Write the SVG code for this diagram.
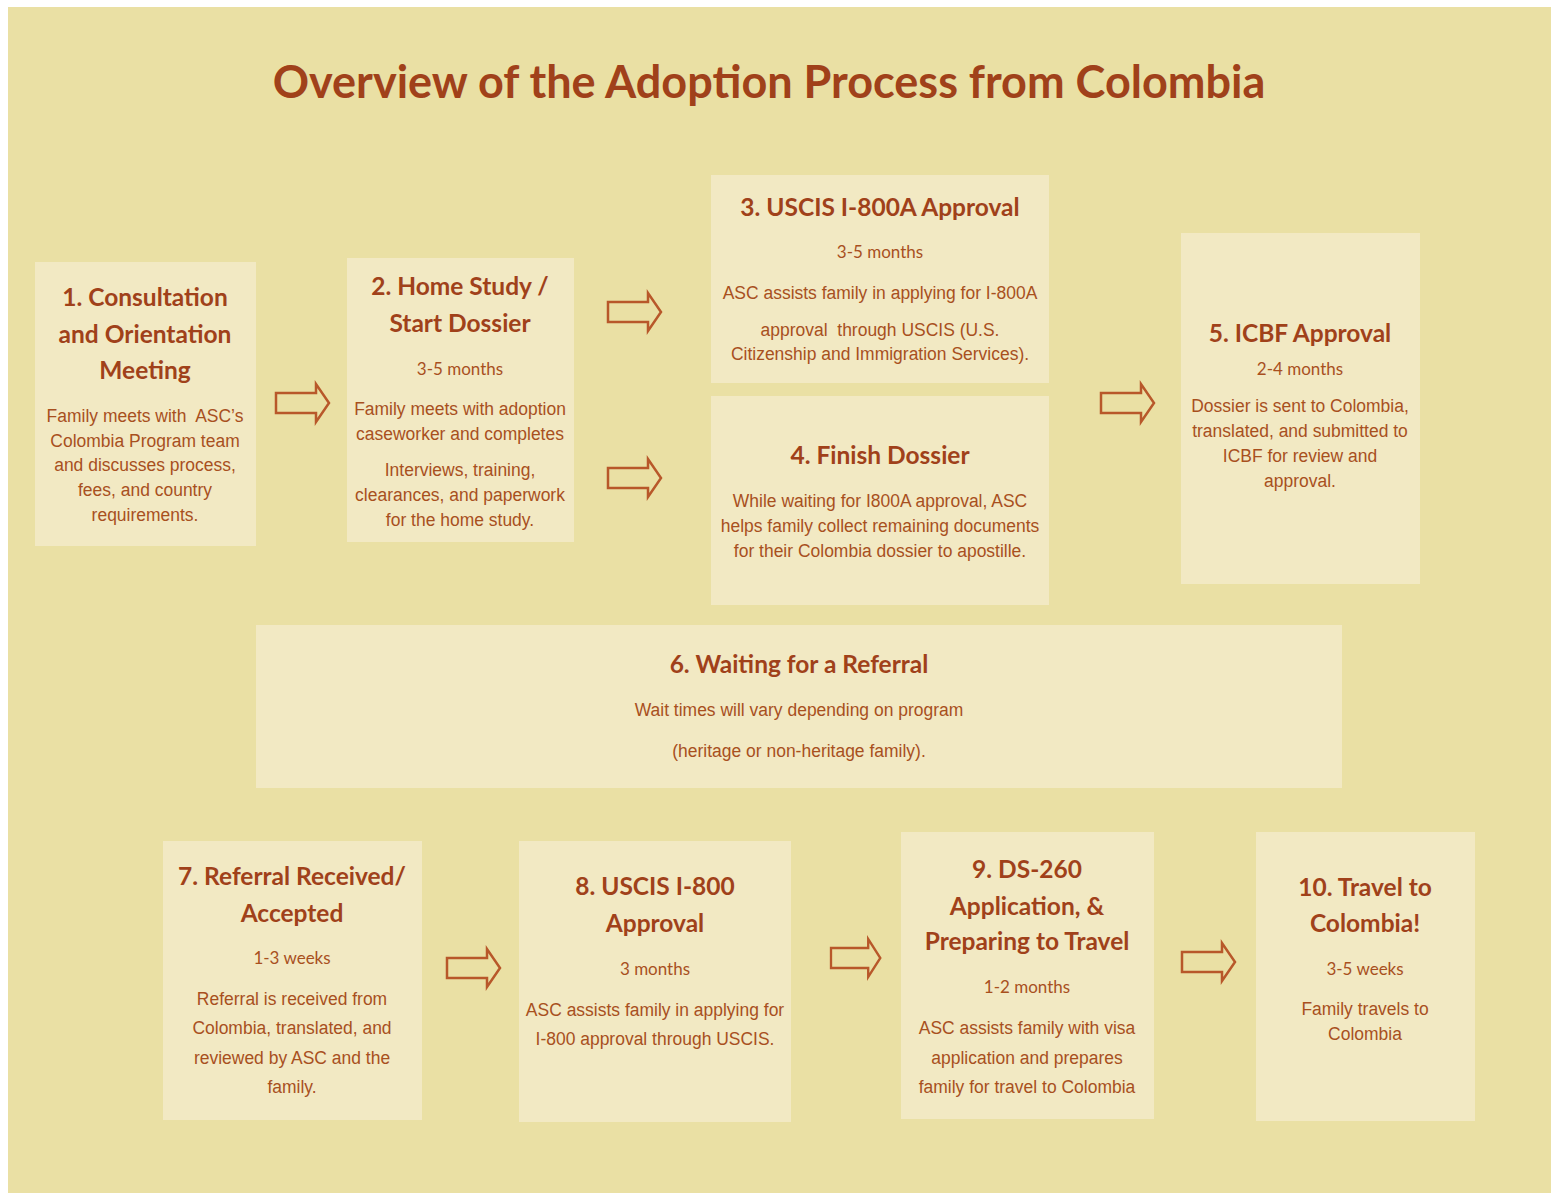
<svg xmlns="http://www.w3.org/2000/svg" width="1557" height="1193" viewBox="0 0 1557 1193">
<style>
.bg{fill:#EAE0A4}
.box{fill:#F2E9C3}
.title{font-family:Lato,"Open Sans",sans-serif;font-weight:bold;font-size:45px;fill:#A0411A;text-anchor:middle}
.h{font-family:Lato,"Open Sans",sans-serif;font-weight:bold;font-size:24.5px;fill:#A0411A;text-anchor:middle}
.m{font-family:Lato,"Open Sans",sans-serif;font-size:17px;fill:#A8501E;text-anchor:middle}
.b{font-family:"Liberation Sans",Arial,sans-serif;font-size:19px;fill:#A8501E;text-anchor:middle;white-space:pre}
.arr{fill:none;stroke:#B8582A;stroke-width:2.5;stroke-linejoin:miter}
</style>
<defs>
<path id="ar" d="M0,-10 H40 V-19 L53,0 L40,19 V10 H0 Z"/>
</defs>
<rect width="1557" height="1193" fill="#FFFFFF"/>
<rect class="bg" x="8" y="7" width="1543" height="1186"/>
<text class="title" x="769" y="98">Overview of the Adoption Process from Colombia</text>

<g id="node1">
<rect class="box" x="35" y="262" width="221" height="284"/>
<text class="h" x="145" y="306">1. Consultation</text>
<text class="h" x="145" y="343">and Orientation</text>
<text class="h" x="145" y="379">Meeting</text>
<text class="b" transform="translate(145,422) scale(0.92,1)">Family meets with  ASC’s</text>
<text class="b" transform="translate(145,447) scale(0.92,1)">Colombia Program team</text>
<text class="b" transform="translate(145,471) scale(0.92,1)">and discusses process,</text>
<text class="b" transform="translate(145,496) scale(0.92,1)">fees, and country</text>
<text class="b" transform="translate(145,521) scale(0.92,1)">requirements.</text>
</g>

<g id="node2">
<rect class="box" x="347" y="258" width="227" height="284"/>
<text class="h" x="460" y="295">2. Home Study /</text>
<text class="h" x="460" y="332">Start Dossier</text>
<text class="m" x="460" y="375">3-5 months</text>
<text class="b" transform="translate(460,415) scale(0.92,1)">Family meets with adoption</text>
<text class="b" transform="translate(460,440) scale(0.92,1)">caseworker and completes</text>
<text class="b" transform="translate(460,476) scale(0.92,1)">Interviews, training,</text>
<text class="b" transform="translate(460,501) scale(0.92,1)">clearances, and paperwork</text>
<text class="b" transform="translate(460,526) scale(0.92,1)">for the home study.</text>
</g>

<g id="node3">
<rect class="box" x="711" y="175" width="338" height="208"/>
<text class="h" x="880" y="216">3. USCIS I-800A Approval</text>
<text class="m" x="880" y="258">3-5 months</text>
<text class="b" transform="translate(880,299) scale(0.92,1)">ASC assists family in applying for I-800A</text>
<text class="b" transform="translate(880,336) scale(0.92,1)">approval  through USCIS (U.S.</text>
<text class="b" transform="translate(880,360) scale(0.92,1)">Citizenship and Immigration Services).</text>
</g>

<g id="node4">
<rect class="box" x="711" y="396" width="338" height="209"/>
<text class="h" x="880" y="464">4. Finish Dossier</text>
<text class="b" transform="translate(880,507) scale(0.92,1)">While waiting for I800A approval, ASC</text>
<text class="b" transform="translate(880,532) scale(0.92,1)">helps family collect remaining documents</text>
<text class="b" transform="translate(880,557) scale(0.92,1)">for their Colombia dossier to apostille.</text>
</g>

<g id="node5">
<rect class="box" x="1181" y="233" width="239" height="351"/>
<text class="h" x="1300" y="342">5. ICBF Approval</text>
<text class="m" x="1300" y="375">2-4 months</text>
<text class="b" transform="translate(1300,412) scale(0.92,1)">Dossier is sent to Colombia,</text>
<text class="b" transform="translate(1300,437) scale(0.92,1)">translated, and submitted to</text>
<text class="b" transform="translate(1300,462) scale(0.92,1)">ICBF for review and</text>
<text class="b" transform="translate(1300,487) scale(0.92,1)">approval.</text>
</g>

<g id="node6">
<rect class="box" x="256" y="625" width="1086" height="163"/>
<text class="h" x="799" y="673">6. Waiting for a Referral</text>
<text class="b" transform="translate(799,716) scale(0.92,1)">Wait times will vary depending on program</text>
<text class="b" transform="translate(799,757) scale(0.92,1)">(heritage or non-heritage family).</text>
</g>

<g id="node7">
<rect class="box" x="163" y="841" width="259" height="279"/>
<text class="h" x="292" y="885">7. Referral Received/</text>
<text class="h" x="292" y="922">Accepted</text>
<text class="m" x="292" y="964">1-3 weeks</text>
<text class="b" transform="translate(292,1005) scale(0.92,1)">Referral is received from</text>
<text class="b" transform="translate(292,1034) scale(0.92,1)">Colombia, translated, and</text>
<text class="b" transform="translate(292,1064) scale(0.92,1)">reviewed by ASC and the</text>
<text class="b" transform="translate(292,1093) scale(0.92,1)">family.</text>
</g>

<g id="node8">
<rect class="box" x="519" y="841" width="272" height="281"/>
<text class="h" x="655" y="895">8. USCIS I-800</text>
<text class="h" x="655" y="932">Approval</text>
<text class="m" x="655" y="975">3 months</text>
<text class="b" transform="translate(655,1016) scale(0.92,1)">ASC assists family in applying for</text>
<text class="b" transform="translate(655,1045) scale(0.92,1)">I-800 approval through USCIS.</text>
</g>

<g id="node9">
<rect class="box" x="901" y="832" width="253" height="287"/>
<text class="h" x="1027" y="878">9. DS-260</text>
<text class="h" x="1027" y="915">Application, &amp;</text>
<text class="h" x="1027" y="950">Preparing to Travel</text>
<text class="m" x="1027" y="993">1-2 months</text>
<text class="b" transform="translate(1027,1034) scale(0.92,1)">ASC assists family with visa</text>
<text class="b" transform="translate(1027,1064) scale(0.92,1)">application and prepares</text>
<text class="b" transform="translate(1027,1093) scale(0.92,1)">family for travel to Colombia</text>
</g>

<g id="node10">
<rect class="box" x="1256" y="832" width="219" height="289"/>
<text class="h" x="1365" y="896">10. Travel to</text>
<text class="h" x="1365" y="932">Colombia!</text>
<text class="m" x="1365" y="975">3-5 weeks</text>
<text class="b" transform="translate(1365,1015) scale(0.92,1)">Family travels to</text>
<text class="b" transform="translate(1365,1040) scale(0.92,1)">Colombia</text>
</g>

<g id="connectors">
<use href="#ar" class="arr" transform="translate(276,403)"/>
<use href="#ar" class="arr" transform="translate(608,312)"/>
<use href="#ar" class="arr" transform="translate(608,478)"/>
<use href="#ar" class="arr" transform="translate(1101,403)"/>
<use href="#ar" class="arr" transform="translate(447,968)"/>
<use href="#ar" class="arr" transform="translate(831,958) scale(0.93,1)"/>
<use href="#ar" class="arr" transform="translate(1182,962)"/>
</g>
</svg>
